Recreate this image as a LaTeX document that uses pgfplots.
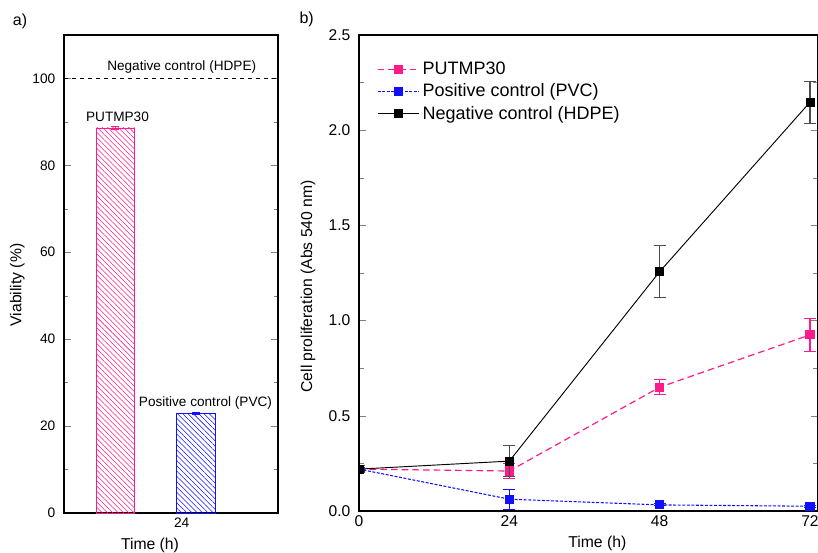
\documentclass[border=0pt]{standalone}
\usepackage{fontspec}
\setmainfont{Liberation Sans}
\usepackage{pgfplots}
\pgfplotsset{compat=1.18}
\usetikzlibrary{patterns.meta}
\definecolor{pinkc}{HTML}{FF1A8C}
\definecolor{bluec}{HTML}{1010FF}

\begin{document}
\begin{tikzpicture}
% left panel: viability bars
\begin{axis}[
  at={(48pt,30pt)},anchor=south west,scale only axis,
  width=160.5pt,height=358.5pt,
  xmin=0,xmax=10,ymin=0,ymax=110,
  xtick={5.5},xticklabels={24},
  ytick={0,20,...,100},minor ytick={10,30,...,90},
  tick align=inside,major tick length=5pt,minor tick length=3pt,
  xtick style={draw=none},
  tick label style={font=\fontsize{10.3}{12}\selectfont},
  yticklabel style={xshift=-3pt},
  /pgf/number format/assume math mode=true,
  axis line style={line width=0.8pt},
  clip=false,
]
\addplot[black,dashed,line width=0.5pt] coordinates {(0,100) (10,100)};
\addplot[ybar,bar width=29pt,bar shift=0pt,draw=pinkc,
  pattern={Lines[angle=-45,distance=2.8pt,line width=0.4pt]},pattern color=pinkc,
  error bars/.cd,y dir=both,y explicit,error bar style={pinkc,line width=0.8pt},
  error mark options={rotate=90,mark size=3pt,pinkc}]
  coordinates {(2.4,88.6) +- (0,0.4)};
\addplot[ybar,bar width=29.5pt,bar shift=0pt,draw=bluec,
  pattern={Lines[angle=-45,distance=2.8pt,line width=0.4pt]},pattern color=bluec,
  error bars/.cd,y dir=both,y explicit,error bar style={bluec,line width=0.8pt},
  error mark options={rotate=90,mark size=3pt,bluec}]
  coordinates {(6.17,23.0) +- (0,0.2)};
\node[font=\fontsize{10.2}{12}\selectfont] at (axis cs:5.5,102.6) {Negative control (HDPE)};
\node[font=\fontsize{10.2}{12}\selectfont] at (axis cs:2.5,91.2) {PUTMP30};
\node[font=\fontsize{10.2}{12}\selectfont] at (axis cs:6.61,25.4) {Positive control (PVC)};
\end{axis}

% right panel: cell proliferation
\begin{axis}[
  at={(269.25pt,31.5pt)},anchor=south west,scale only axis,
  width=344.25pt,height=357pt,
  xmin=0,xmax=73.28,ymin=0,ymax=2.5,
  xtick={0,24,48,72},
  ytick={0,0.5,...,2.5},minor ytick={0.25,0.75,...,2.25},
  yticklabel style={xshift=-3pt,/pgf/number format/.cd,fixed,fixed zerofill,precision=1},
  tick align=inside,major tick length=5pt,minor tick length=4pt,
  xtick style={draw=none},
  tick label style={font=\fontsize{11.7}{13}\selectfont},
  /pgf/number format/assume math mode=true,
  axis line style={line width=0.8pt},
  clip marker paths=true,
  legend style={draw=none,fill=none,at={(0.03,0.955)},anchor=north west,
    font=\fontsize{13.5}{15}\selectfont,row sep=1.5pt},
  legend cell align=left,
  legend image code/.code={\draw[mark repeat=2,mark phase=2,#1]
    plot coordinates {(0cm,0cm) (0.55cm,0cm) (1.1cm,0cm)};},
]
\addplot[pinkc,line width=0.9pt,dash pattern=on 5pt off 3pt,mark=square*,mark size=3pt,
  mark options={solid},
  error bars/.cd,y dir=both,y explicit,error bar style={pinkc,line width=0.8pt,solid},
  error mark options={rotate=90,mark size=4.5pt,pinkc,line width=0.8pt}]
  coordinates {(0,0.22) +- (0,0.02) (24,0.21) +- (0,0.04) (48,0.65) +- (0,0.04) (72,0.925) +- (0,0.085)};
\addlegendentry{PUTMP30}
\addplot[bluec,line width=0.8pt,dash pattern=on 2.2pt off 1.2pt,mark=square*,mark size=3pt,
  mark options={solid},
  error bars/.cd,y dir=both,y explicit,error bar style={bluec,line width=0.8pt,solid},
  error mark options={rotate=90,mark size=4.5pt,bluec,line width=0.8pt}]
  coordinates {(0,0.22) +- (0,0.01) (24,0.062) +- (0,0.053) (48,0.032) +- (0,0.005) (72,0.025) +- (0,0.005)};
\addlegendentry{Positive control (PVC)}
\addplot[black,line width=0.7pt,mark=square*,mark size=3pt,
  error bars/.cd,y dir=both,y explicit,error bar style={black!70,line width=0.8pt},
  error mark options={rotate=90,mark size=4.5pt,black!70,line width=0.8pt}]
  coordinates {(0,0.22) +- (0,0.02) (24,0.262) +- (0,0.08) (48,1.257) +- (0,0.135) (72,2.147) +- (0,0.11)};
\addlegendentry{Negative control (HDPE)}
\end{axis}

% panel letters and axis titles
\node[font=\fontsize{12}{14}\selectfont] at (15pt,399pt) {a)};
\node[font=\fontsize{12}{14}\selectfont] at (230pt,400pt) {b)};
\node[font=\fontsize{11.8}{14}\selectfont,rotate=90] at (13pt,201pt) {Viability (\%)};
\node[font=\fontsize{11.8}{14}\selectfont] at (112.5pt,6pt) {Time (h)};
\node[font=\fontsize{11.8}{14}\selectfont,rotate=90] at (231pt,200pt) {Cell proliferation (Abs 540 nm)};
\node[font=\fontsize{11.8}{14}\selectfont] at (448pt,7pt) {Time (h)};

\pgfresetboundingbox
\path[use as bounding box] (0,0) rectangle (613.5pt,414.75pt);
\end{tikzpicture}
\end{document}
